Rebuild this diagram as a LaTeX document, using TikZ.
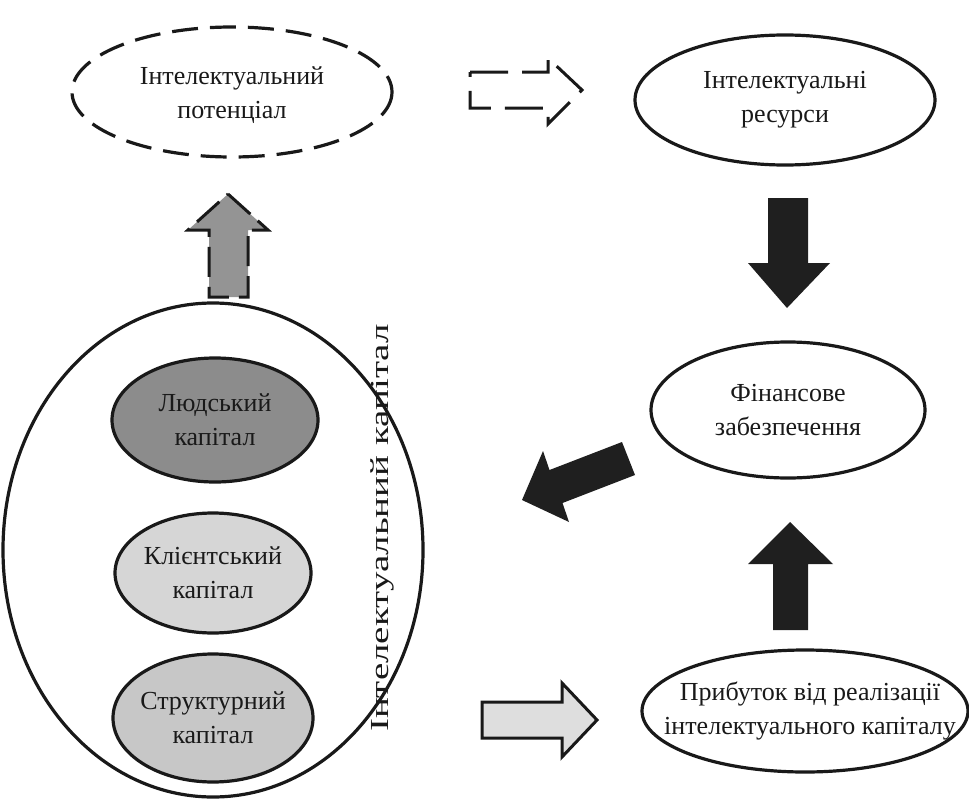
\documentclass[tikz,border=0pt]{standalone}
\usepackage{fontspec}
\setmainfont{Liberation Serif}
\begin{document}
\begin{tikzpicture}[x=1pt,y=-1pt,
  every node/.style={font=\fontsize{26}{34}\selectfont, align=center, text=black!90, inner sep=0pt},
  oval/.style={draw=black!90, line width=3.2pt},
  blockarrow/.style={line width=3pt, draw=black!90, line join=miter},
  solidarrow/.style={fill=black!88, draw=none},
]
\useasboundingbox (0,0) rectangle (969,803);
% ellipses
\draw[oval, dash pattern=on 26pt off 12pt] (232,92) ellipse [x radius=160, y radius=65];
\node (pot) at (232,95) {Інтелектуальний\\потенціал};
\draw[oval] (785,100) ellipse [x radius=150, y radius=65];
\node (res) at (785,100) {Інтелектуальні\\ресурси};
\draw[oval] (788,410) ellipse [x radius=137, y radius=68];
\node (fin) at (788,410) {Фінансове\\забезпечення};
\draw[oval] (805,711) ellipse [x radius=163, y radius=61];
\node (prib) at (810,711) {Прибуток від реалізації\\інтелектуального капіталу};
\draw[oval] (213,550) ellipse [x radius=210, y radius=247];
\node[rotate=90, xscale=1.5] (ik) at (382,528) {Інтелектуальний капітал};
\draw[oval, fill=black!45] (215,420) ellipse [x radius=103, y radius=62];
\node (lk) at (215,420) {Людський\\капітал};
\draw[oval, fill=black!16] (213,573) ellipse [x radius=98, y radius=60];
\node (kk) at (213,573) {Клієнтський\\капітал};
\draw[oval, fill=black!22] (213,718) ellipse [x radius=100, y radius=64];
\node (sk) at (213,718) {Структурний\\капітал};
% dashed hollow arrow to the right
\draw[blockarrow, dash pattern=on 38pt off 14pt] (470,72) -- (548,72) -- (548,58) -- (582,90) -- (548,124) -- (548,108) -- (470,108) -- cycle;
% gray dashed up arrow
\draw[blockarrow, fill=black!42, dash pattern=on 30pt off 10pt] (228,194) -- (268,230) -- (248,230) -- (248,297) -- (209,297) -- (209,230) -- (188,230) -- cycle;
% black down arrow
\fill[solidarrow] (768,198) -- (808,198) -- (808,263) -- (830,263) -- (787,308) -- (748,263) -- (768,263) -- cycle;
% black left-down arrow
\fill[solidarrow] (622,442) -- (635,475) -- (562.5,503) -- (569,522) -- (522,500) -- (543,451) -- (549.5,470) -- cycle;
% black up arrow
\fill[solidarrow] (790,522) -- (833,564) -- (808,564) -- (808,630) -- (773,630) -- (773,564) -- (748,564) -- cycle;
% light gray hollow right arrow
\draw[blockarrow, fill=black!13] (482,702) -- (562,702) -- (562,683) -- (597,720) -- (562,757) -- (562,738) -- (482,738) -- cycle;
\end{tikzpicture}
\end{document}
